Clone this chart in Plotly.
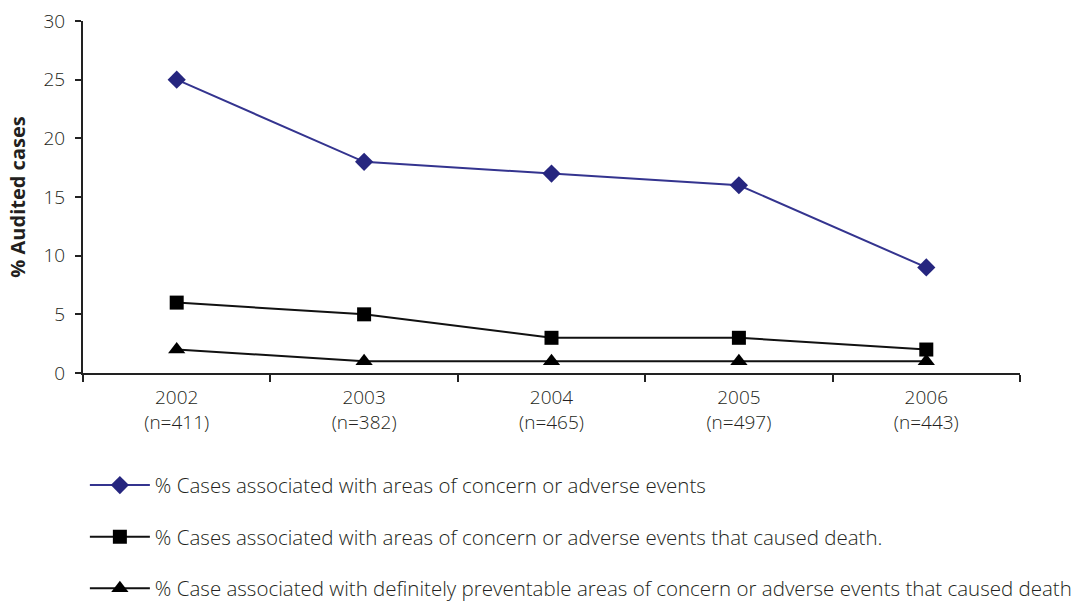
import plotly.graph_objects as go

years = ["2002", "2003", "2004", "2005", "2006"]
sample_sizes = ["n=411", "n=382", "n=465", "n=497", "n=443"]
tick_labels = [f"{y}<br>({n})" for y, n in zip(years, sample_sizes)]

pct_concern = [25, 18, 17, 16, 9]
pct_concern_death = [6, 5, 3, 3, 2]
pct_preventable_death = [2, 1, 1, 1, 1]

names = [
    "% Cases associated with areas of concern or adverse events",
    "% Cases associated with areas of concern or adverse events that caused death.",
    "% Case associated with definitely preventable areas of concern or adverse events that caused death",
]

FONT = "'Open Sans', sans-serif"
TEXT = "#231f20"

fig = go.Figure()
fig.add_trace(go.Scatter(
    x=tick_labels, y=pct_concern, name=names[0], mode="lines+markers",
    line=dict(color="#34348f", width=2),
    marker=dict(symbol="diamond", size=14, color="#26267f"),
    legendgroup="a",
))
fig.add_trace(go.Scatter(
    x=tick_labels, y=pct_concern_death, name=names[1], mode="lines+markers",
    line=dict(color="#111111", width=2),
    marker=dict(symbol="square", size=14, color="#000000"),
    legendgroup="b",
))
fig.add_trace(go.Scatter(
    x=tick_labels, y=pct_preventable_death, name=names[2], mode="lines+markers",
    line=dict(color="#111111", width=2),
    marker=dict(symbol="triangle-up", size=15, color="#000000"),
    legendgroup="c",
))

fig.update_layout(
    width=1087, height=602,
    margin=dict(l=83, r=67, t=21, b=229, autoexpand=False),
    paper_bgcolor="white", plot_bgcolor="white",
    font=dict(family=FONT, color=TEXT, size=19, weight=300),
    showlegend=True,
    legend=dict(
        x=0.002, xanchor="left", y=-0.262, yanchor="top",
        font=dict(size=20.5, color=TEXT, weight=300),
        tracegroupgap=22, traceorder="grouped",
        itemwidth=60,
        bgcolor="rgba(0,0,0,0)",
    ),
    xaxis=dict(
        type="category", tickson="boundaries",
        showline=True, linecolor="#222", linewidth=2,
        ticks="outside", ticklen=7, tickcolor="#222", tickwidth=2,
        showgrid=False, zeroline=False, ticklabelstandoff=6,
        tickfont=dict(size=19, weight=300), range=[-0.5, 4.5],
    ),
    yaxis=dict(
        range=[0, 30], tickvals=[0, 5, 10, 15, 20, 25, 30],
        showline=True, linecolor="#222", linewidth=2,
        ticks="outside", ticklen=6, tickcolor="#222", tickwidth=2,
        showgrid=False, zeroline=False, ticklabelstandoff=6,
        tickfont=dict(size=19, weight=300),
        title=dict(text="% Audited cases", font=dict(size=20, weight="bold"), standoff=12),
    ),
)

fig.write_html("out.html")
